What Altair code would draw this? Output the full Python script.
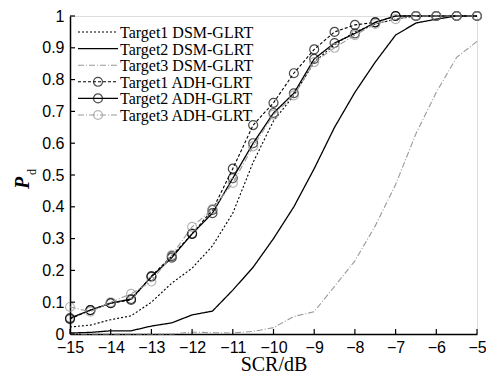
import altair as alt
import pandas as pd

snr = [-15, -14.5, -14, -13.5, -13, -12.5, -12, -11.5, -11, -10.5, -10,
       -9.5, -9, -8.5, -8, -7.5, -7, -6.5, -6, -5.5, -5]

t1_dsm = [0.022, 0.028, 0.045, 0.057, 0.10, 0.16, 0.207, 0.277, 0.38, 0.54, 0.67,
          0.75, 0.855, 0.91, 0.95, 0.975, 0.99, 1.0, 1.0, 1.0, 1.0]
t2_dsm = [0.003, 0.005, 0.01, 0.01, 0.025, 0.035, 0.06, 0.072, 0.138, 0.21, 0.30,
          0.40, 0.52, 0.65, 0.76, 0.855, 0.94, 0.978, 0.99, 1.0, 1.0]
t3_dsm = [0.0, 0.0, 0.0, 0.0, 0.0, 0.0, 0.006, 0.004, 0.003, 0.008, 0.02,
          0.055, 0.07, 0.15, 0.23, 0.34, 0.47, 0.63, 0.76, 0.87, 0.92]
t1_adh = [0.047, 0.075, 0.097, 0.107, 0.182, 0.245, 0.315, 0.39, 0.52, 0.657, 0.727,
          0.82, 0.895, 0.95, 0.972, 0.98, 1.0, 1.0, 1.0, 1.0, 1.0]
t2_adh = [0.05, 0.075, 0.097, 0.11, 0.18, 0.24, 0.315, 0.38, 0.49, 0.60, 0.695,
          0.757, 0.865, 0.915, 0.945, 0.98, 1.0, 1.0, 1.0, 1.0, 1.0]
t3_adh = [0.085, 0.07, 0.10, 0.126, 0.165, 0.248, 0.337, 0.393, 0.475, 0.59, 0.69,
          0.75, 0.855, 0.90, 0.94, 0.975, 0.99, 1.0, 1.0, 1.0, 1.0]

series_names = ["Target1 DSM-GLRT", "Target2 DSM-GLRT", "Target3 DSM-GLRT",
                "Target1 ADH-GLRT", "Target2 ADH-GLRT", "Target3 ADH-GLRT"]
series_vals = [t1_dsm, t2_dsm, t3_dsm, t1_adh, t2_adh, t3_adh]
has_marker = [False, False, False, True, True, True]

colors = ["#000000", "#000000", "#999999", "#000000", "#000000", "#999999"]
dashes = [[2, 2], [1, 0], [6, 2, 1, 2], [3, 2], [1, 0], [6, 2, 1, 2]]
widths = [1.1, 1.3, 1.1, 1.1, 1.3, 1.1]

x_ticks = list(range(-15, -4))
y_ticks = [0, 0.1, 0.2, 0.3, 0.4, 0.5, 0.6, 0.7, 0.8, 0.9, 1.0]

rows = []
for name, vals, mk in zip(series_names, series_vals, has_marker):
    for x, y in zip(snr, vals):
        rows.append({"series": name, "snr": x, "pd": y, "marker": mk})
df = pd.DataFrame(rows)

W, H = 407, 318

xscale = alt.Scale(domain=[-15, -5], nice=False, zero=False)
yscale = alt.Scale(domain=[0, 1], nice=False)

axis_common = dict(tickSize=0, domainColor="#000", domainWidth=1.5,
                   labelFont="Liberation Sans", labelFontSize=16,
                   labelColor="#000", grid=False, labelOverlap=False,
                   labelFlush=False, labelBound=False)

x_axis = alt.Axis(values=x_ticks, format="d", title="SCR/dB",
                  titleFont="Liberation Serif", titleFontSize=20,
                  titleFontWeight="normal", titleColor="#000",
                  titlePadding=-1, labelPadding=5, **axis_common)
y_axis = alt.Axis(values=y_ticks, format="~g", title="",
                  labelPadding=6, **axis_common)

base = alt.Chart(df)

layers = []
for i, name in enumerate(series_names):
    sub = base.transform_filter(alt.datum.series == name)
    line = sub.mark_line(color=colors[i], strokeDash=dashes[i],
                         strokeWidth=widths[i]).encode(
        x=alt.X("snr:Q", scale=xscale, axis=x_axis),
        y=alt.Y("pd:Q", scale=yscale, axis=y_axis),
    )
    layers.append(line)
    if has_marker[i]:
        pts = sub.mark_point(shape="circle", filled=False, size=80,
                             color=colors[i], strokeWidth=1.2).encode(
            x=alt.X("snr:Q", scale=xscale, axis=x_axis),
            y=alt.Y("pd:Q", scale=yscale, axis=y_axis),
        )
        layers.append(pts)

# inward ticks
xt = pd.DataFrame({"snr": x_ticks})
yt = pd.DataFrame({"pd": y_ticks})
xtick_layer = alt.Chart(xt).mark_rule(color="#000", strokeWidth=1.2).encode(
    x=alt.X("snr:Q", scale=xscale, axis=x_axis), y=alt.value(H), y2=alt.value(H - 5))
ytick_layer = alt.Chart(yt).mark_rule(color="#000", strokeWidth=1.2).encode(
    y=alt.Y("pd:Q", scale=yscale, axis=y_axis), x=alt.value(0), x2=alt.value(5))
layers += [xtick_layer, ytick_layer]

# legend
leg_y0, leg_dy = 16, 16.6
for i, name in enumerate(series_names):
    yy = leg_y0 + i * leg_dy
    ld = pd.DataFrame({"label": [name]})
    lc = alt.Chart(ld)
    layers.append(lc.mark_rule(color=colors[i], strokeDash=dashes[i],
                               strokeWidth=widths[i]).encode(
        x=alt.value(8), x2=alt.value(48), y=alt.value(yy)))
    if has_marker[i]:
        layers.append(lc.mark_point(shape="circle", filled=False, size=80,
                                    color=colors[i], strokeWidth=1.2).encode(
            x=alt.value(28), y=alt.value(yy)))
    layers.append(lc.mark_text(align="left", baseline="middle",
                               font="Liberation Serif", fontSize=16,
                               color="#000").encode(
        x=alt.value(50), y=alt.value(yy + 1), text="label:N"))

# y title P_d
td = pd.DataFrame({"p": ["P"], "d": ["d"]})
layers.append(alt.Chart(td).mark_text(angle=270, font="Liberation Serif",
                                      fontSize=20, fontStyle="italic",
                                      fontWeight="bold", color="#000",
                                      baseline="middle", align="center").encode(
    x=alt.value(-47), y=alt.value(167), text="p:N"))
layers.append(alt.Chart(td).mark_text(angle=270, font="Liberation Serif",
                                      fontSize=12, color="#000",
                                      baseline="middle", align="center").encode(
    x=alt.value(-38), y=alt.value(156), text="d:N"))

chart = alt.layer(*layers).properties(
    width=W, height=H,
    autosize=alt.AutoSizeParams(type="none"),
    padding={"left": 62, "top": 8, "right": 9, "bottom": 42},
).configure_view(stroke="#222", strokeWidth=2).configure(background="white")

chart.save("out.html", embed_options={"renderer": "svg", "actions": False})
